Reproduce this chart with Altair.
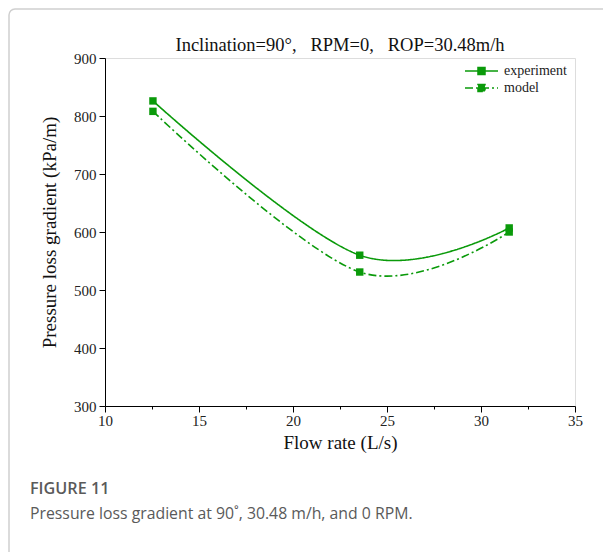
import altair as alt
import pandas as pd

flow_rate = [12.55, 23.55, 31.5]
experiment = [826, 560, 607]
model = [808, 531, 600]
series_names = ["experiment", "model"]
x_ticks = [10, 12.5, 15, 17.5, 20, 22.5, 25, 27.5, 30, 32.5, 35]
y_ticks = [300, 350, 400, 450, 500, 550, 600, 650, 700, 750, 800, 850, 900]
title_text = "Inclination=90°,\u00a0\u00a0 RPM=0,\u00a0\u00a0 ROP=30.48m/h"
caption_title = "FIGURE 11"
caption_text = "Pressure loss gradient at 90˚, 30.48 m/h, and 0 RPM."

GREEN = "#0a9a0a"
SERIF = "Liberation Serif"

rows = []
for x, e, m in zip(flow_rate, experiment, model):
    rows.append({"flow": x, "value": e, "series": series_names[0]})
    rows.append({"flow": x, "value": m, "series": series_names[1]})
df = pd.DataFrame(rows)

xscale = alt.Scale(domain=[10, 35], nice=False, zero=False)
yscale = alt.Scale(domain=[300, 900], nice=False, zero=False)

xaxis = alt.Axis(
    values=x_ticks, title="Flow rate (L/s)", grid=False,
    labelExpr="datum.value % 5 == 0 ? datum.label : ''",
    tickSize={"condition": {"test": "datum.value % 5 != 0", "value": 3}, "value": 6},
    domainColor="#000", tickColor="#000", labelColor="#222", titleColor="#111",
    labelFont=SERIF, titleFont=SERIF, labelFontSize=15, titleFontSize=19,
    titleFontWeight="normal", labelPadding=1, titlePadding=5, labelFlush=False,
)
yaxis = alt.Axis(
    values=y_ticks, title="Pressure loss gradient (kPa/m)", grid=False,
    labelExpr="datum.value % 100 == 0 ? datum.label : ''",
    tickSize={"condition": {"test": "datum.value % 100 != 0", "value": 3}, "value": 6},
    domainColor="#000", tickColor="#000", labelColor="#222", titleColor="#111",
    labelFont=SERIF, titleFont=SERIF, labelFontSize=15, titleFontSize=19,
    titleFontWeight="normal", labelPadding=3, titlePadding=14, labelFlush=False,
)

legend_common = dict(
    title=None, orient="none", legendX=359, legendY=6,
    symbolType="M-1,0L1,0M-0.21,-0.21L0.21,-0.21L0.21,0.21L-0.21,0.21Z",
    symbolSize=1089, symbolStrokeWidth=1.6, symbolFillColor=GREEN,
    labelFont=SERIF, labelFontSize=14, labelColor="#222",
    rowPadding=3, labelOffset=5, padding=0, clipHeight=14,
)

lines = alt.Chart(df).mark_line(interpolate="cardinal", strokeWidth=1.6).encode(
    x=alt.X("flow:Q", scale=xscale, axis=xaxis),
    y=alt.Y("value:Q", scale=yscale, axis=yaxis),
    color=alt.Color("series:N", scale=alt.Scale(domain=series_names, range=[GREEN, GREEN]),
                    legend=alt.Legend(**legend_common)),
    strokeDash=alt.StrokeDash("series:N", scale=alt.Scale(domain=series_names, range=[[1, 0], [8, 3, 2, 3]]),
                              legend=alt.Legend(**legend_common)),
)

points = alt.Chart(df).mark_square(size=55, opacity=1, color=GREEN).encode(
    x=alt.X("flow:Q", scale=xscale),
    y=alt.Y("value:Q", scale=yscale),
)

border = alt.Chart(pd.DataFrame({"a": [0]})).mark_rect(
    fill="transparent", stroke="#cfcfcf", strokeWidth=1.5, cornerRadius=6
).encode(x=alt.value(-96), x2=alt.value(560), y=alt.value(-49), y2=alt.value(560))

title_mark = alt.Chart(pd.DataFrame({"t": [title_text]})).mark_text(
    align="center", baseline="alphabetic", font=SERIF, fontSize=18.5, color="#111"
).encode(text="t:N", x=alt.value(235), y=alt.value(-7))

caption_head = alt.Chart(pd.DataFrame({"t": [caption_title]})).mark_text(
    align="left", baseline="middle", font="Open Sans", fontSize=16.2, fontWeight=600, color="#5a5a5a"
).encode(text="t:N", x=alt.value(-75), y=alt.value(431))

caption_body = alt.Chart(pd.DataFrame({"t": [caption_text]})).mark_text(
    align="left", baseline="middle", font="Open Sans", fontSize=15.8, color="#5a5a5a"
).encode(text="t:N", x=alt.value(-75), y=alt.value(456))

chart = alt.layer(border, lines, points, title_mark, caption_head, caption_body).properties(
    width=470, height=348,
    autosize=alt.AutoSizeParams(type="none"),
    padding={"left": 97, "top": 50, "right": 28, "bottom": 146},
).configure_view(stroke="#444", strokeWidth=1).configure(background="white")

chart.save("out.html", embed_options={"renderer": "svg", "actions": False})
